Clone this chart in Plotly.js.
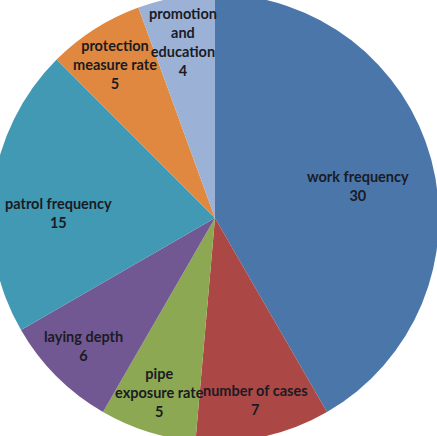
<!DOCTYPE html>
<html>
<head>
<meta charset="utf-8">
<script src="https://cdn.plot.ly/plotly-3.0.1.min.js"></script>
<style>
html,body{margin:0;padding:0;width:437px;height:436px;overflow:hidden;background:#fff;}
#chart{position:absolute;left:-9px;top:-6px;width:448px;height:448px;}
</style>
</head>
<body>
<div id="chart"></div>
<script>
const categories = ["work frequency","number of cases","pipe<br>exposure rate","laying depth","patrol frequency","protection<br>measure rate","promotion<br>and<br>education"];
const values = [30,7,5,6,15,5,4];
const colors = ["#4a76aa","#ab4744","#8ca852","#725892","#4299b4","#e0883f","#9bb2d6"];

// label styling / fine placement (pixels), kept separate from the data
const labelFont = {family: "Lato, 'Open Sans', sans-serif", size: 14.5, color: "#1b1b24", weight: "bold"};
const labelXShift = [-4, 0, 0, 0, -5, 0, 0];
const labelYShift = [-7, 0, 3, 3, -15, -3, -7];

const trace = {
  type: "pie",
  labels: categories,
  values: values,
  sort: false,
  direction: "clockwise",
  rotation: 0,
  marker: {colors: colors, line: {width: 0}},
  textinfo: "none",
  hoverinfo: "none",
  showlegend: false
};

// data labels placed along each slice's bisector (Excel-style best fit)
const total = values.reduce((a, b) => a + b, 0);
let cum = 0;
const annotations = values.map((v, i) => {
  const share = v / total;
  const mid = (cum + v / 2) / total * 2 * Math.PI;
  cum += v;
  const f = share > 0.15 ? 0.68 : 0.83;
  return {
    xref: "paper", yref: "paper",
    x: 0.5 + 0.5 * f * Math.sin(mid),
    y: 0.5 + 0.5 * f * Math.cos(mid),
    xshift: labelXShift[i], yshift: labelYShift[i],
    text: categories[i] + "<br>" + v,
    showarrow: false,
    font: labelFont,
    align: "center",
    xanchor: "center", yanchor: "middle"
  };
});

Plotly.newPlot("chart", [trace], {
  width: 448, height: 448,
  margin: {l:0, r:0, t:0, b:0},
  paper_bgcolor: "#ffffff",
  annotations: annotations
}, {staticPlot: true});
</script>
</body>
</html>
